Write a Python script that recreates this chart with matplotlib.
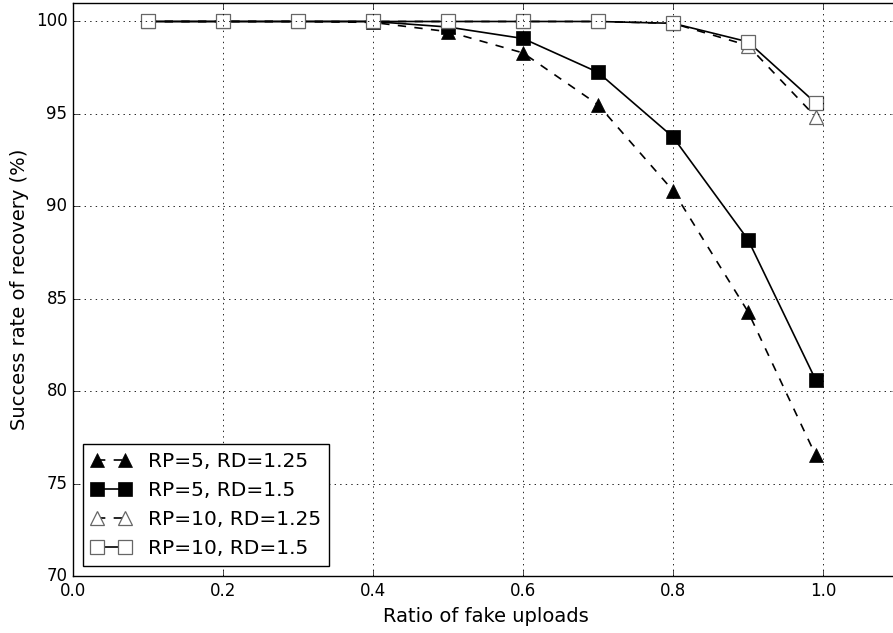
import numpy as np
import matplotlib
matplotlib.use('Agg')
import matplotlib.pyplot as plt

plt.style.use('classic')

# Ratio of fake uploads
ratio = [0.1, 0.2, 0.3, 0.4, 0.5, 0.6, 0.7, 0.8, 0.9, 0.99]

# Success rate of recovery (%)
rp5_rd125 = [100, 100, 100, 99.95, 99.45, 98.3, 95.5, 90.85, 84.3, 76.55]
rp5_rd15 = [100, 100, 100, 100, 99.7, 99.08, 97.25, 93.75, 88.2, 80.63]
rp10_rd125 = [100, 100, 100, 100, 100, 100, 100, 99.9, 98.7, 94.85]
rp10_rd15 = [100, 100, 100, 100, 100, 100, 100, 99.9, 98.9, 95.6]

labels = ['RP=5, RD=1.25', 'RP=5, RD=1.5', 'RP=10, RD=1.25', 'RP=10, RD=1.5']

fig = plt.figure(figsize=(8.93, 6.33), dpi=100, facecolor='white')
ax = fig.add_axes([73 / 893, 57 / 633, 825 / 893, 573 / 633])

ms = 9.5
ax.plot(ratio, rp5_rd125, '--', color='black', lw=1.2, marker='^', ms=ms,
        mfc='black', mec='black', label=labels[0])
ax.plot(ratio, rp5_rd15, '-', color='black', lw=1.2, marker='s', ms=ms,
        mfc='black', mec='black', label=labels[1])
ax.plot(ratio, rp10_rd125, '--', color='black', lw=1.2, marker='^', ms=ms,
        mfc='white', mec='0.4', mew=0.9, label=labels[2])
ax.plot(ratio, rp10_rd15, '-', color='black', lw=1.2, marker='s', ms=ms,
        mfc='white', mec='0.4', mew=0.9, label=labels[3])

ax.set_xlim(0, 1.1)
ax.set_ylim(70, 101)
ax.set_xticks(np.arange(0, 1.01, 0.2))
ax.set_yticks(np.arange(70, 101, 5))
ax.tick_params(labelsize=12)
ax.grid(True, color='black', linestyle=':', linewidth=0.6)

ax.set_xlabel('Ratio of fake uploads', fontsize=14)
ax.set_ylabel('Success rate of recovery (%)', fontsize=14)

ax.legend(loc='lower left', fontsize=14.5, numpoints=2)

fig.savefig('out.png', dpi=100, facecolor='white')
